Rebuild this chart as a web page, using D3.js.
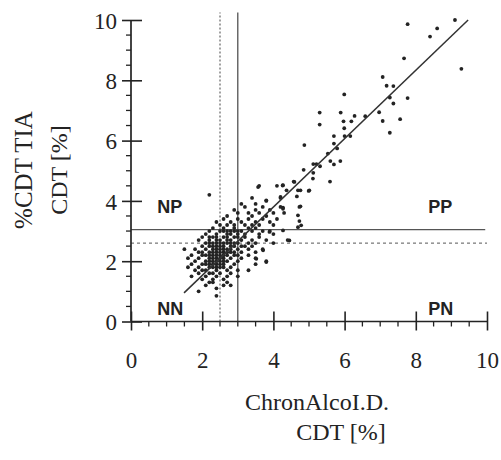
<!DOCTYPE html>
<html><head><meta charset="utf-8">
<script src="https://cdn.jsdelivr.net/npm/d3@7"></script>
<style>html,body{margin:0;padding:0;background:#fff;}svg{display:block;}</style>
</head><body>
<svg id="c" width="501" height="460"></svg>
<script>
// ---- data ----
const xTicks = [0, 2, 4, 6, 8, 10];
const yTicks = [0, 2, 4, 6, 8, 10];
const minorTicks = [0.5,1,1.5,2.5,3,3.5,4.5,5,5.5,6.5,7,7.5,8.5,9,9.5];
const cutSolidX = 3.0, cutDotX = 2.5;
const cutSolidY = 3.05, cutDotY = 2.6;
const regX = [1.49, 9.47];
const regY = [0.95, 10.0];
const quadrantLabels = ["NP", "PP", "NN", "PN"];
const xTitle = ["ChronAlcoI.D.", "CDT [%]"];
const yTitle = ["%CDT TIA", "CDT [%]"];
const ptsX = [
 7.77,8.60,9.10,8.40,7.67,9.28,7.07,7.18,7.37,7.27,7.77,7.37,6.97,6.58,7.07,7.56,7.27,
 5.30,5.89,5.30,6.28,5.97,6.19,5.99,6.00,6.16,5.70,5.70,5.79,4.87,5.53,5.60,5.88,5.70,5.12,5.21,5.31,4.85,5.12,5.11,5.59,4.57,4.26,4.37,4.69,4.76,5.01,4.66,4.76,4.27,5.99,
 3.57,4.27,4.59,4.99,4.20,3.80,4.27,4.69,4.73,4.69,4.73,4.78,4.45,4.27,3.89,3.71,3.80,3.52,
 2.2,3.6,3.4,3.8,4.1,4.2,3.5,3.1,
 2.9,3.0,3.2,3.3,3.5,3.6,3.7,3.9,4.0,3.4,2.7,3.8,4.2,4.3,
 2.4,2.6,2.8,2.9,3.0,3.1,3.2,3.3,3.5,3.6,3.7,3.9,4.0,2.5,2.7,3.4,4.1,
 2.2,2.3,2.4,2.5,2.6,2.7,2.8,2.9,3.0,3.1,3.2,3.3,3.4,3.6,3.7,3.9,4.0,3.5,2.1,
 1.9,2.0,2.1,2.2,2.3,2.4,2.5,2.6,2.7,2.8,2.9,3.0,3.1,3.2,3.3,3.4,3.5,3.6,3.8,4.0,4.4,2.3,2.6,2.9,3.0,
 1.5,1.8,1.9,2.0,2.1,2.2,2.3,2.4,2.5,2.6,2.7,2.8,2.9,3.0,3.1,3.2,3.3,3.5,3.7,2.2,2.5,2.8,3.1,2.0,2.7,3.4,
 1.6,1.7,1.8,1.9,2.0,2.1,2.2,2.3,2.4,2.5,2.6,2.7,2.8,2.9,3.0,3.1,3.3,3.5,3.8,2.1,2.4,2.7,3.0,2.3,2.6,
 1.6,1.7,1.8,1.9,2.0,2.1,2.2,2.3,2.4,2.5,2.6,2.7,2.8,2.9,3.0,3.3,3.5,2.2,2.5,2.0,
 1.7,1.9,2.0,2.1,2.2,2.3,2.4,2.5,2.6,2.7,2.8,3.0,2.3,
 1.9,2.1,2.3,2.4,2.6,2.7,2.8,2.2,2.4,
 2.2,2.4,2.5,2.7,2.8,2.4,2.7,2.2,
 2.3,2.4,2.6,2.6,2.4,2.3,2.5,2.9,2.8,
 2.2,2.5,2.3,2.4,2.6,2.5,2.2,
 2.3,2.4,2.1,2.4,2.6,
 2.6,2.7,2.9,2.8,3.0
];
const ptsY = [
 9.86,9.72,10.0,9.45,8.73,8.38,8.11,7.82,7.81,7.43,7.41,7.23,6.94,6.81,6.65,6.71,6.26,
 6.93,6.93,6.53,6.82,6.64,6.64,6.41,6.15,6.15,6.15,5.90,5.74,5.85,5.57,5.32,5.32,5.21,5.22,5.22,5.15,5.03,4.93,4.74,4.64,4.64,4.51,4.35,4.35,4.35,4.35,4.15,3.82,3.78,7.53,
 4.46,4.52,4.63,4.33,4.13,4.02,3.74,3.13,3.80,3.52,3.33,3.19,2.69,3.02,2.97,2.36,1.97,2.08,
 4.2,4.5,4.1,4.0,4.5,4.1,3.9,3.9,
 3.7,3.6,3.8,3.6,3.7,3.6,3.8,3.7,3.6,3.5,3.5,3.5,3.8,3.6,
 3.3,3.4,3.3,3.2,3.4,3.3,3.2,3.4,3.3,3.2,3.4,3.3,3.2,3.2,3.2,3.2,3.4,
 3.0,3.1,2.9,3.0,3.1,2.9,3.0,3.1,2.9,3.0,2.9,3.1,3.0,2.9,3.0,3.0,2.9,3.1,2.9,
 2.7,2.8,2.6,2.7,2.8,2.6,2.7,2.8,2.6,2.7,2.8,2.6,2.7,2.8,2.6,2.7,2.6,2.8,2.7,2.6,2.7,2.6,2.6,2.6,2.8,
 2.4,2.4,2.3,2.5,2.4,2.3,2.5,2.4,2.3,2.5,2.4,2.3,2.5,2.4,2.3,2.5,2.4,2.3,2.4,2.5,2.5,2.5,2.5,2.3,2.3,2.5,
 2.1,2.2,2.0,2.1,2.2,2.0,2.1,2.2,2.0,2.1,2.2,2.0,2.1,2.2,2.0,2.1,2.2,2.1,2.0,2.2,2.2,2.2,2.2,2.0,2.0,
 1.8,1.9,1.7,1.8,1.9,1.7,1.8,1.9,1.7,1.8,1.9,1.7,1.8,1.9,1.7,1.7,1.9,1.9,1.9,1.7,
 1.5,1.6,1.4,1.5,1.6,1.4,1.5,1.6,1.4,1.5,1.6,1.5,1.6,
 1.0,1.2,1.3,1.1,1.2,1.3,1.2,1.3,0.85,
 2.6,2.7,2.6,2.7,2.6,2.8,2.8,2.8,
 2.3,2.3,2.3,2.4,2.5,2.4,2.4,2.3,2.4,
 2.0,2.0,2.1,2.1,2.1,2.2,2.2,
 1.8,1.8,1.9,1.9,1.8,
 3.0,3.0,3.0,2.9,3.0
];

// ---- chart ----
const svg = d3.select("#c");
const x = d3.scaleLinear().domain([0, 10]).range([131, 487]);
const y = d3.scaleLinear().domain([0, 10]).range([321.5, 20]);
const ink = "#232323";
const serif = "'Liberation Serif','Times New Roman',serif";

// quadrant lines
const g = svg.append("g");
g.append("line").attr("x1", x(cutDotX)).attr("x2", x(cutDotX)).attr("y1", y(0)).attr("y2", y(10.25))
 .attr("stroke", "#444").attr("stroke-width", 1).attr("stroke-dasharray", "2,2");
g.append("line").attr("x1", x(cutSolidX)).attr("x2", x(cutSolidX)).attr("y1", y(0)).attr("y2", y(10.25))
 .attr("stroke", "#444").attr("stroke-width", 1.2);
g.append("line").attr("x1", x(0)).attr("x2", x(10)).attr("y1", y(cutDotY)).attr("y2", y(cutDotY))
 .attr("stroke", "#555").attr("stroke-width", 1).attr("stroke-dasharray", "3,3");
g.append("line").attr("x1", x(0)).attr("x2", x(9.95)).attr("y1", y(cutSolidY)).attr("y2", y(cutSolidY))
 .attr("stroke", "#555").attr("stroke-width", 1.2);

// points
const pts = ptsX.map((v, i) => [v, ptsY[i]]);
svg.append("g").selectAll("circle").data(pts).join("circle")
 .attr("cx", d => x(d[0])).attr("cy", d => y(d[1])).attr("r", 1.9).attr("fill", ink);

// regression line
svg.append("line").attr("x1", x(regX[0])).attr("y1", y(regY[0])).attr("x2", x(regX[1])).attr("y2", y(regY[1]))
 .attr("stroke", "#333").attr("stroke-width", 1.5);

// axes: y
const yAxis = d3.axisLeft(y).tickValues(yTicks).tickSize(9).tickPadding(5).tickFormat(d3.format("d"));
const ya = svg.append("g").attr("transform", `translate(${x(0)},0)`).call(yAxis);
ya.select(".domain").attr("d", `M0,${y(0)}V${y(10)}`).attr("stroke", ink).attr("stroke-width", 1.7);
ya.selectAll(".tick line").attr("stroke", ink).attr("stroke-width", 1.6).attr("x2", -9).attr("x1", 11);
ya.selectAll(".tick text").attr("font-family", serif).attr("font-size", 23).attr("fill", ink).attr("dy", "0.36em");
ya.selectAll(".minor").data(minorTicks).join("line").attr("class", "minor")
 .attr("x1", -5).attr("x2", 0).attr("y1", d => y(d)).attr("y2", d => y(d)).attr("stroke", ink).attr("stroke-width", 1.3);

// axes: x
const xAxis = d3.axisBottom(x).tickValues(xTicks).tickSize(9).tickPadding(21).tickFormat(d3.format("d"));
const xa = svg.append("g").attr("transform", `translate(0,${y(0)})`).call(xAxis);
xa.select(".domain").attr("d", `M${x(0)},0H${x(10)}`).attr("stroke", ink).attr("stroke-width", 1.7);
xa.selectAll(".tick line").attr("stroke", ink).attr("stroke-width", 1.6).attr("y1", -10).attr("y2", 9);
xa.selectAll(".tick text").attr("font-family", serif).attr("font-size", 23).attr("fill", ink).attr("dy", "0.71em");
xa.selectAll(".minor").data(minorTicks).join("line").attr("class", "minor")
 .attr("y1", 0).attr("y2", 5).attr("x1", d => x(d)).attr("x2", d => x(d)).attr("stroke", ink).attr("stroke-width", 1.3);

// quadrant labels
const qPos = [[0.74, 3.6], [8.35, 3.6], [0.74, 0.2], [8.35, 0.2]];
svg.append("g").selectAll("text").data(quadrantLabels).join("text")
 .attr("x", (d, i) => x(qPos[i][0])).attr("y", (d, i) => y(qPos[i][1]))
 .attr("font-family", "'Liberation Sans',Arial,sans-serif").attr("font-weight", "bold")
 .attr("font-size", 18).attr("fill", ink).text(d => d);

// titles
svg.append("text").attr("x", 317).attr("y", 410).attr("text-anchor", "middle")
 .attr("font-family", serif).attr("font-size", 24).attr("fill", ink).text(xTitle[0]);
svg.append("text").attr("x", 341).attr("y", 440).attr("text-anchor", "middle")
 .attr("font-family", serif).attr("font-size", 24).attr("fill", ink).text(xTitle[1]);
svg.append("text").attr("transform", "translate(32,170) rotate(-90)").attr("text-anchor", "middle")
 .attr("font-family", serif).attr("font-size", 25).attr("fill", ink).text(yTitle[0]);
svg.append("text").attr("transform", "translate(67,170) rotate(-90)").attr("text-anchor", "middle")
 .attr("font-family", serif).attr("font-size", 24).attr("fill", ink).text(yTitle[1]);
</script>
</body></html>
